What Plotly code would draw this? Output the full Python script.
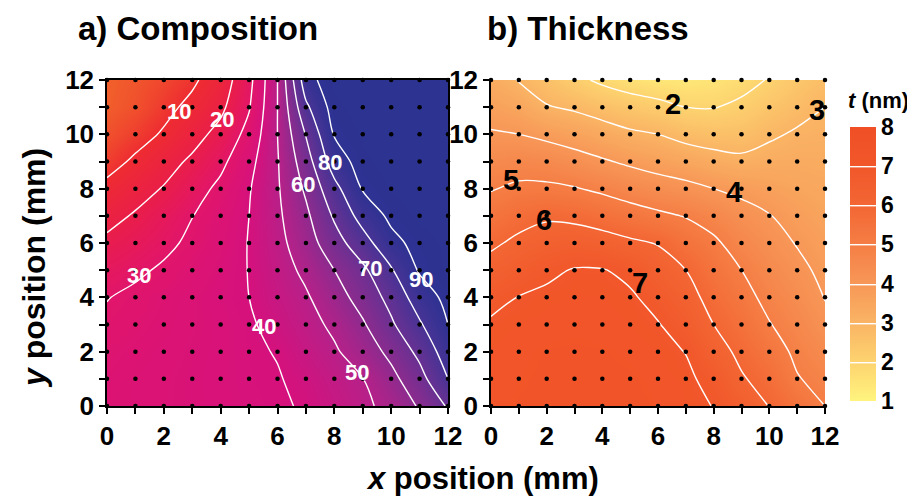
import plotly.graph_objects as go

# ---------------- data ----------------
x_mm = list(range(13))          # measurement grid, x position (mm)
y_mm = list(range(13))          # measurement grid, y position (mm)
tick_vals = list(range(13))
tick_text = [str(v) if v % 2 == 0 else "" for v in tick_vals]

# composition (%) ; rows = y 0..12, columns = x 0..12
composition = [
    [34.5, 35.3, 36.0, 36.8, 37.5, 38.3, 39.1, 40.7, 44.3, 47.9, 53.1, 61.0, 71.0],
    [34.0, 35.0, 35.9, 36.8, 37.7, 38.6, 39.5, 42.1, 46.0, 49.8, 57.3, 66.5, 80.0],
    [33.0, 34.2, 35.4, 36.5, 37.6, 38.8, 40.4, 44.6, 48.8, 54.8, 62.4, 72.5, 85.0],
    [31.5, 33.0, 34.5, 36.0, 37.5, 39.0, 42.6, 46.8, 51.8, 58.9, 68.6, 78.8, 90.0],
    [29.7, 31.8, 33.8, 35.9, 38.0, 40.0, 44.4, 48.9, 55.8, 63.8, 73.0, 85.0, 92.5],
    [26.2, 28.5, 31.2, 34.2, 37.2, 40.2, 45.9, 52.0, 60.0, 68.0, 79.0, 91.0, 96.0],
    [21.8, 24.8, 28.0, 31.7, 36.0, 40.3, 47.2, 55.5, 65.9, 75.9, 87.3, 93.0, 96.0],
    [17.1, 20.9, 25.3, 29.8, 34.9, 40.0, 48.3, 58.0, 71.3, 83.8, 92.0, 96.0, 98.0],
    [12.3, 16.4, 20.6, 26.1, 32.1, 39.3, 49.0, 61.5, 77.0, 90.7, 95.5, 97.5, 99.0],
    [6.6, 11.5, 16.3, 21.6, 27.8, 37.0, 49.4, 65.5, 85.0, 94.0, 97.0, 98.5, 99.5],
    [3.0, 6.5, 11.0, 16.5, 23.0, 33.0, 50.0, 70.5, 90.7, 96.0, 98.0, 99.0, 100.0],
    [0.5, 3.0, 7.5, 12.3, 18.0, 29.3, 50.0, 78.0, 94.0, 97.0, 99.0, 100.0, 100.0],
    [0.0, 2.0, 5.0, 8.5, 15.0, 27.0, 50.0, 86.0, 96.0, 98.0, 99.0, 100.0, 100.0],
]

# thickness t (nm) ; rows = y 0..12, columns = x 0..12
thickness = [
    [7.28, 7.32, 7.35, 7.37, 7.37, 7.35, 7.30, 7.20, 6.98, 6.50, 5.98, 5.50, 5.00],
    [7.25, 7.30, 7.33, 7.35, 7.35, 7.33, 7.27, 7.15, 6.75, 6.08, 5.68, 5.05, 4.75],
    [7.20, 7.28, 7.32, 7.33, 7.32, 7.28, 7.20, 6.98, 6.34, 5.81, 5.37, 4.84, 4.48],
    [7.10, 7.20, 7.25, 7.28, 7.25, 7.20, 7.04, 6.63, 6.00, 5.54, 5.04, 4.62, 4.20],
    [6.76, 7.02, 7.15, 7.20, 7.20, 7.10, 6.75, 6.30, 5.72, 5.27, 4.78, 4.40, 3.97],
    [6.31, 6.60, 6.84, 7.05, 7.04, 6.82, 6.37, 6.00, 5.43, 5.00, 4.53, 4.18, 3.83],
    [5.86, 6.17, 6.38, 6.47, 6.35, 6.14, 5.96, 5.49, 5.14, 4.64, 4.28, 3.96, 3.69],
    [5.41, 5.70, 5.89, 5.80, 5.60, 5.37, 5.16, 4.96, 4.67, 4.27, 4.03, 3.74, 3.55],
    [4.95, 5.15, 5.15, 5.05, 4.85, 4.60, 4.38, 4.22, 4.00, 3.83, 3.66, 3.52, 3.41],
    [4.51, 4.63, 4.55, 4.33, 4.09, 3.86, 3.67, 3.50, 3.30, 3.16, 3.28, 3.30, 3.28],
    [4.07, 4.00, 3.81, 3.60, 3.38, 3.14, 3.00, 2.74, 2.62, 2.64, 2.89, 3.09, 3.14],
    [3.68, 3.47, 3.05, 2.89, 2.64, 2.41, 2.23, 2.00, 1.97, 2.15, 2.46, 2.75, 3.00],
    [3.30, 2.97, 2.60, 2.20, 1.85, 1.60, 1.45, 1.40, 1.50, 1.75, 2.05, 2.40, 2.70],
]

comp_levels = [10, 20, 30, 40, 50, 60, 70, 80, 90]
thick_levels = [2, 3, 4, 5, 6, 7]
cbar_ticks = [1, 2, 3, 4, 5, 6, 7, 8]

# contour label placement (x, y in mm)
comp_label_x = [2.54, 4.03, 1.14, 5.51, 8.79, 6.90, 9.24, 7.83, 11.04]
comp_label_y = [10.85, 10.53, 4.82, 2.93, 1.23, 8.14, 5.05, 8.97, 4.64]
thick_label_x = [6.53, 11.71, 8.74, 0.72, 1.91, 5.36]
thick_label_y = [11.12, 10.90, 7.86, 8.32, 6.83, 4.51]

# ---------------- styling ----------------
FONT = "Liberation Sans, Arial, sans-serif"
OFF = 8                      # the page body adds an 8 px margin around the figure
W, H = 915 - OFF, 496 - OFF  # figure size so the page fits the 915x496 window


def fx(px):   # window pixel -> paper fraction (x)
    return (px - OFF) / W


def fy(py):   # window pixel -> paper fraction (y)
    return 1 - (py - OFF) / H


comp_scale = [
    [0.00, "#F1602B"], [0.10, "#EE2C31"], [0.20, "#EA1E48"], [0.30, "#E1156A"],
    [0.40, "#D5117D"], [0.50, "#B52189"], [0.60, "#8C2B8E"], [0.70, "#683192"],
    [0.80, "#473395"], [0.90, "#2E3292"], [1.00, "#2C3390"],
]
thick_scale = [
    [0 / 7, "#FFF47E"], [1 / 7, "#FDD36F"], [2 / 7, "#FAB464"], [3 / 7, "#F79757"],
    [4 / 7, "#F57E45"], [5 / 7, "#F36634"], [6 / 7, "#F1572A"], [7 / 7, "#F04F25"],
]

fig = go.Figure()

fig.add_trace(go.Contour(
    x=x_mm, y=y_mm, z=composition, xaxis="x", yaxis="y",
    colorscale=comp_scale, zmin=0, zmax=100, showscale=False,
    contours=dict(start=comp_levels[0], end=comp_levels[-1], size=10,
                  coloring="heatmap", showlabels=False),
    line=dict(color="white", width=1.4, smoothing=1.0),
    hoverinfo="skip",
))

fig.add_trace(go.Contour(
    x=x_mm, y=y_mm, z=thickness, xaxis="x2", yaxis="y2",
    colorscale=thick_scale, zmin=1, zmax=8,
    contours=dict(start=thick_levels[0], end=thick_levels[-1], size=1,
                  coloring="heatmap", showlabels=False),
    line=dict(color="white", width=1.4, smoothing=1.0),
    colorbar=dict(
        x=fx(850), xanchor="left", y=fy(264), yanchor="middle",
        len=274 / H, lenmode="fraction", thickness=26, outlinewidth=0,
        tickvals=cbar_ticks, ticks="", ticklabelposition="outside",
        tickfont=dict(family=FONT, size=23, color="black", weight="bold"),
        xpad=0, ypad=0,
    ),
    hoverinfo="skip",
))

# measurement points
gx = [xv for yv in y_mm for xv in x_mm]
gy = [yv for yv in y_mm for xv in x_mm]
for xa, ya in (("x", "y"), ("x2", "y2")):
    fig.add_trace(go.Scatter(
        x=gx, y=gy, mode="markers", xaxis=xa, yaxis=ya,
        marker=dict(color="black", size=4.5), cliponaxis=False,
        hoverinfo="skip", showlegend=False,
    ))

annotations = []
for v, lx, ly in zip(comp_levels, comp_label_x, comp_label_y):
    annotations.append(dict(x=lx, y=ly, xref="x", yref="y", text=f"<b>{v}</b>",
                            showarrow=False, font=dict(family=FONT, size=22, color="white")))
for v, lx, ly in zip(thick_levels, thick_label_x, thick_label_y):
    annotations.append(dict(x=lx, y=ly, xref="x2", yref="y2", text=f"<b>{v}</b>",
                            showarrow=False, font=dict(family=FONT, size=29, color="black")))

px_annotations = [
    dict(x=76, y=28, text="<b>a) Composition</b>", xanchor="left", size=33),
    dict(x=485, y=28, text="<b>b) Thickness</b>", xanchor="left", size=33),
    dict(x=482, y=478, text="<b><i>x</i> position (mm)</b>", xanchor="center", size=31),
    dict(x=34, y=268, text="<b><i>y</i> position (mm)</b>", xanchor="center", size=32, angle=-90),
    dict(x=878, y=100, text="<b><i>t</i> (nm)</b>", xanchor="center", size=22),
]
for a in px_annotations:
    annotations.append(dict(
        x=fx(a["x"]), y=fy(a["y"]), xref="paper", yref="paper", text=a["text"],
        showarrow=False, xanchor=a["xanchor"], yanchor="middle",
        textangle=a.get("angle", 0),
        font=dict(family=FONT, size=a["size"], color="black"),
    ))

axis_common = dict(
    range=[0, 12], tickvals=tick_vals, ticktext=tick_text, ticks="outside",
    ticklen=6, tickwidth=1.5, tickcolor="black", showgrid=False, zeroline=False,
    showline=True, linecolor="black", linewidth=1.5, automargin=False,
    tickfont=dict(family=FONT, size=26, color="black", weight="bold"),
)

fig.update_layout(
    width=W, height=H, margin=dict(l=0, r=0, t=0, b=0, autoexpand=False),
    paper_bgcolor="white", plot_bgcolor="white", showlegend=False,
    xaxis=dict(domain=[fx(107), fx(448)], anchor="y", mirror=True, **axis_common),
    yaxis=dict(domain=[fy(406), fy(80)], anchor="x", mirror=True, **axis_common),
    xaxis2=dict(domain=[fx(491), fx(825)], anchor="y2", **axis_common),
    yaxis2=dict(domain=[fy(406), fy(80)], anchor="x2", **axis_common),
    annotations=annotations,
)

fig.write_html("out.html")
